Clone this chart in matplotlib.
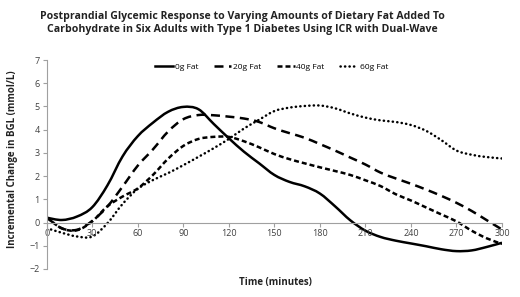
import matplotlib
matplotlib.use("Agg")
import matplotlib.pyplot as plt
import numpy as np
from matplotlib.path import Path
from matplotlib.patches import PathPatch
from matplotlib.lines import Line2D

time_min = [0, 10, 20, 30, 40, 50, 60, 70, 80, 90, 100, 110, 120, 130, 140, 150,
            160, 170, 180, 190, 200, 210, 220, 230, 240, 250, 260, 270, 280, 290, 300]
fat_0g = [0.21, 0.11, 0.26, 0.66, 1.6, 2.85, 3.72, 4.3, 4.77, 4.98, 4.88, 4.25, 3.63, 3.05, 2.55, 2.05,
          1.75, 1.56, 1.25, 0.7, 0.1, -0.35, -0.62, -0.78, -0.9, -1.02, -1.15, -1.23, -1.2, -1.05, -0.87]
fat_20g = [0.22, -0.25, -0.31, 0.07, 0.69, 1.55, 2.45, 3.15, 3.92, 4.45, 4.63, 4.62, 4.56, 4.48, 4.33, 4.06,
           3.85, 3.65, 3.38, 3.1, 2.8, 2.5, 2.15, 1.9, 1.67, 1.42, 1.15, 0.85, 0.5, 0.1, -0.3]
fat_40g = [0.22, -0.25, -0.33, 0.05, 0.7, 1.12, 1.47, 2.05, 2.75, 3.3, 3.6, 3.69, 3.69, 3.5, 3.24, 2.95,
           2.73, 2.55, 2.38, 2.22, 2.05, 1.82, 1.57, 1.22, 0.95, 0.65, 0.35, 0.05, -0.35, -0.68, -0.92]
fat_60g = [-0.24, -0.44, -0.6, -0.6, -0.03, 0.8, 1.45, 1.83, 2.13, 2.47, 2.83, 3.2, 3.6, 4.05, 4.43, 4.8,
           4.95, 5.02, 5.04, 4.92, 4.7, 4.52, 4.4, 4.33, 4.2, 3.95, 3.55, 3.1, 2.92, 2.82, 2.76]
series_labels = ["0g Fat", "20g Fat", "40g Fat", "60g Fat"]
x_ticks = [0, 30, 60, 90, 120, 150, 180, 210, 240, 270, 300]
y_ticks = [-2, -1, 0, 1, 2, 3, 4, 5, 6, 7]

title_text = ("Postprandial Glycemic Response to Varying Amounts of Dietary Fat Added To\n"
              "Carbohydrate in Six Adults with Type 1 Diabetes Using ICR with Dual-Wave")

plt.rcParams['font.family'] = ['Open Sans', 'DejaVu Sans']

fig = plt.figure(figsize=(5.2, 2.97), dpi=100)
ax = fig.add_axes([46.7 / 520, 1 - 269 / 297, (502 - 46.7) / 520, (269 - 60) / 297])


def smooth_path(x, y):
    """Excel-style smoothed line: Catmull-Rom segments drawn as cubic Bezier curves."""
    p = np.column_stack([x, y]).astype(float)
    ext = np.vstack([p[0], p, p[-1]])
    verts = [p[0]]
    codes = [Path.MOVETO]
    for i in range(len(p) - 1):
        p0, p1, p2, p3 = ext[i], ext[i + 1], ext[i + 2], ext[i + 3]
        c1 = p1 + (p2 - p0) / 6.0
        c2 = p2 - (p3 - p1) / 6.0
        verts += [c1, c2, p2]
        codes += [Path.CURVE4] * 3
    return Path(verts, codes)


lw = 1.8
styles = [
    dict(linestyle='-', capstyle='butt'),
    dict(linestyle=(0, (3.6, 2.2)), capstyle='butt'),
    dict(linestyle=(0, (2.0, 1.2)), capstyle='butt'),
    dict(linestyle=(0, (0.1, 1.7)), capstyle='round'),
]
handles = []
for yvals, lab, st in zip([fat_0g, fat_20g, fat_40g, fat_60g], series_labels, styles):
    patch = PathPatch(smooth_path(time_min, yvals), fill=False, edgecolor='black', lw=lw,
                      linestyle=st['linestyle'], capstyle=st['capstyle'],
                      transform=ax.transData)
    ax.add_patch(patch)
    handles.append(Line2D([], [], color='black', lw=lw, linestyle=st['linestyle'],
                          dash_capstyle=st['capstyle'], label=lab))

ax.set_xlim(0, 300)
ax.set_ylim(-2, 7)
ax.set_xticks(x_ticks)
ax.set_yticks(y_ticks)
ax.spines['top'].set_visible(False)
ax.spines['right'].set_visible(False)
ax.spines['bottom'].set_position(('data', 0))
for s in ('left', 'bottom'):
    ax.spines[s].set_color('#a0a0a0')
    ax.spines[s].set_linewidth(0.8)
ax.tick_params(axis='both', colors='#a0a0a0', labelcolor='#404040', labelsize=6.5,
               length=3, width=0.8, direction='out', pad=2)

ax.legend(handles=handles, loc='upper center', bbox_to_anchor=(0.494, 1.02), ncol=4, frameon=False,
          fontsize=6, handlelength=2.1, columnspacing=1.9, handletextpad=0.2)

fig.text(242 / 520, 1 - 23 / 297, title_text, ha='center', va='center',
         fontsize=7.6, fontweight='bold', color='#222222', linespacing=1.35)
fig.text(275 / 520, 1 - 283 / 297, "Time (minutes)", ha='center', va='center',
         fontsize=7, fontweight='bold', color='#222222')
fig.text(13 / 520, 1 - 159 / 297, "Incremental Change in BGL (mmol/L)", ha='center', va='center',
         rotation=90, fontsize=7, fontweight='bold', color='#222222')

fig.savefig("out.png", dpi=100)
